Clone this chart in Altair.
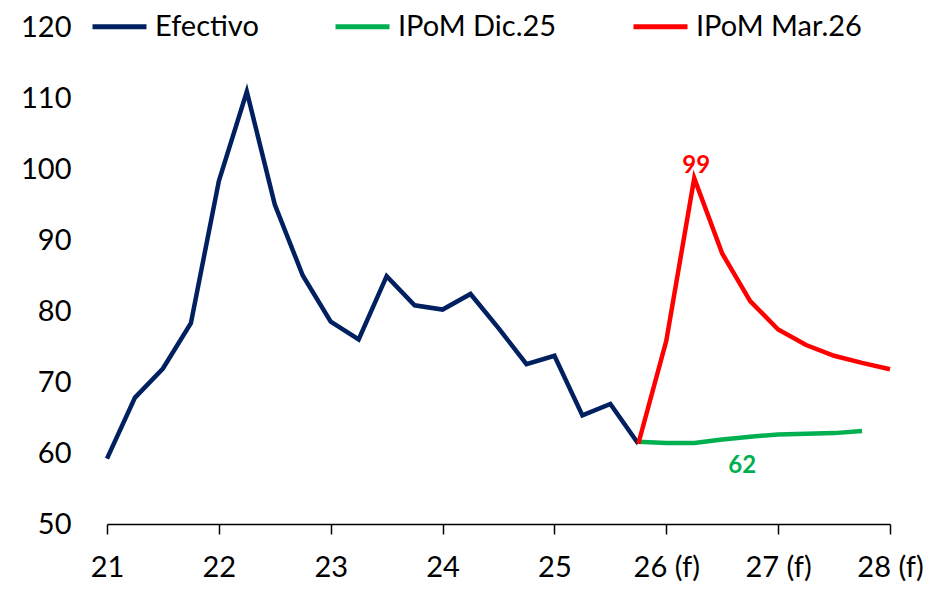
import altair as alt
import pandas as pd

efectivo = [59.2, 67.8, 71.9, 78.3, 98.3, 110.9, 95.0, 85.0, 78.5, 76.0,
            84.9, 80.8, 80.2, 82.4, 77.6, 72.5, 73.7, 65.3, 66.9, 61.3]
ipom_dic25 = [61.6, 61.4, 61.4, 61.9, 62.3, 62.6, 62.7, 62.8, 63.1]
ipom_mar26 = [61.3, 75.8, 98.7, 88.1, 81.4, 77.4, 75.2, 73.7, 72.7, 71.8]
series_names = ["Efectivo", "IPoM Dic.25", "IPoM Mar.26"]
series_colors = ["#002060", "#00B050", "#FF0000"]
year_labels = ["21", "22", "23", "24", "25", "26 (f)", "27 (f)", "28 (f)"]

rows = []
for i, v in enumerate(efectivo):
    rows.append({"q": i, "v": v, "s": series_names[0]})
for i, v in enumerate(ipom_dic25):
    rows.append({"q": 19 + i, "v": v, "s": series_names[1]})
for i, v in enumerate(ipom_mar26):
    rows.append({"q": 19 + i, "v": v, "s": series_names[2]})
df = pd.DataFrame(rows)

label_map = "{" + ",".join(f"{4*i}: '{t}'" for i, t in enumerate(year_labels)) + "}"
FONT = "Lato"

x = alt.X("q:Q", scale=alt.Scale(domain=[0, 28], nice=False, zero=False),
          axis=alt.Axis(values=[4 * i for i in range(8)], labelExpr=f"{label_map}[datum.value]",
                        title=None, grid=False, domainColor="black", domainWidth=1.5,
                        tickColor="black", tickWidth=1.5, tickSize=10, labelPadding=19,
                        labelFontSize=29, labelFont=FONT, labelColor="black", labelFlush=False))
y = alt.Y("v:Q", scale=alt.Scale(domain=[50, 120], nice=False, zero=False),
          axis=alt.Axis(values=list(range(50, 121, 10)), title=None, grid=False, domain=False,
                        ticks=False, tickSize=0, labelPadding=36, labelFontSize=29,
                        labelFont=FONT, labelColor="black"))

lines = alt.Chart(df).mark_line(strokeWidth=4.5, strokeJoin="miter").encode(
    x=x, y=y,
    color=alt.Color("s:N", scale=alt.Scale(domain=series_names, range=series_colors),
                    sort=series_names,
                    legend=alt.Legend(title=None, orient="none", direction="horizontal",
                                      legendX=-17, legendY=-30, symbolType="stroke",
                                      symbolSize=2916, symbolStrokeWidth=5, labelFontSize=29,
                                      labelFont=FONT, labelColor="black", labelOffset=6,
                                      labelLimit=0, columnPadding=66, padding=0)),
    order=alt.Order("q:Q"),
)

peak_df = df[(df.s == series_names[2]) & (df.q == 21)].assign(t="99")
green_df = df[(df.s == series_names[1]) & (df.q == 23)].assign(t="62")

t1 = alt.Chart(peak_df).mark_text(font=FONT, fontWeight="bold", fontSize=24, color="#FF0000",
                                  dx=2, dy=-12, baseline="middle").encode(x="q:Q", y="v:Q", text="t:N")
t2 = alt.Chart(green_df).mark_text(font=FONT, fontWeight="bold", fontSize=24, color="#00B050",
                                   dx=-8, dy=29, baseline="middle").encode(x="q:Q", y="v:Q", text="t:N")

chart = alt.layer(lines, t1, t2).properties(
    width=783, height=497,
    autosize=alt.AutoSizeParams(type="none"),
    padding={"left": 99, "top": 19, "right": 33, "bottom": 60},
).configure_view(stroke=None)

chart.save("out.html", embed_options={"renderer": "svg", "actions": False})
